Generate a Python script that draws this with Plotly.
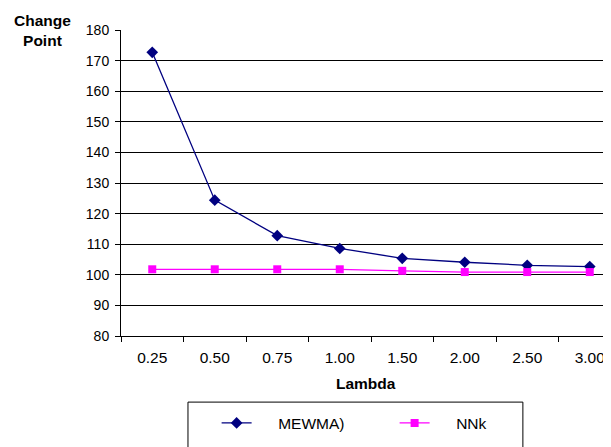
import plotly.graph_objects as go

lambdas = ["0.25", "0.50", "0.75", "1.00", "1.50", "2.00", "2.50", "3.00"]
mewma = [172.7, 124.4, 112.8, 108.6, 105.4, 104.1, 103.1, 102.7]
nnk = [101.8, 101.8, 101.8, 101.8, 101.3, 100.9, 100.9, 100.9]
y_ticks = list(range(80, 181, 10))

FONT = "Liberation Sans, Arial, sans-serif"
NB = "\u00a0" * 5

fig = go.Figure()
fig.add_trace(go.Scatter(
    x=lambdas, y=mewma, name=NB + "MEWMA)", mode="lines+markers",
    line=dict(color="#000080", width=1.3),
    marker=dict(symbol="diamond", size=9, color="#000080"),
))
fig.add_trace(go.Scatter(
    x=lambdas, y=nnk, name=NB + "NNk", mode="lines+markers",
    line=dict(color="#FF00FF", width=1.3),
    marker=dict(symbol="square", size=8, color="#FF00FF"),
))

fig.update_layout(
    width=611, height=447,
    margin=dict(l=113, r=0, t=22, b=119, autoexpand=False),
    paper_bgcolor="white", plot_bgcolor="white",
    font=dict(family=FONT, size=14, color="black"),
    showlegend=True,
    legend=dict(orientation="h", x=0.192, y=-0.23, xanchor="left", yanchor="top",
                entrywidth=133, bgcolor="rgba(0,0,0,0)", borderwidth=0,
                font=dict(size=15.5)),
    xaxis=dict(
        type="category", range=[-0.5, 7.468], automargin=False,
        showgrid=False, showline=True, linecolor="black", linewidth=1,
        ticks="outside", ticklen=5, tickcolor="black", tickson="boundaries",
        ticklabelstandoff=7, tickfont=dict(size=15.5),
    ),
    yaxis=dict(
        range=[80, 180], tickvals=y_ticks, automargin=False,
        showgrid=True, gridcolor="#000000", gridwidth=1,
        showline=True, linecolor="black", linewidth=1,
        ticks="outside", ticklen=5, tickcolor="black",
        zeroline=False, ticklabelstandoff=3, tickfont=dict(size=14),
    ),
    shapes=[dict(type="rect", xref="paper", yref="paper",
                 x0=0.1345, x1=0.807, y0=-0.216, y1=-0.45,
                 line=dict(color="black", width=1), fillcolor="rgba(0,0,0,0)")],
    annotations=[
        dict(text="<b>Change<br>Point</b>", xref="paper", yref="paper",
             x=-0.157, y=1.065, xanchor="center", yanchor="top",
             showarrow=False, font=dict(size=15.5)),
        dict(text="<b>Lambda</b>", xref="paper", yref="paper",
             x=0.492, y=-0.154, xanchor="center", yanchor="middle",
             showarrow=False, font=dict(size=15.5)),
    ],
)

fig.write_html("out.html")
